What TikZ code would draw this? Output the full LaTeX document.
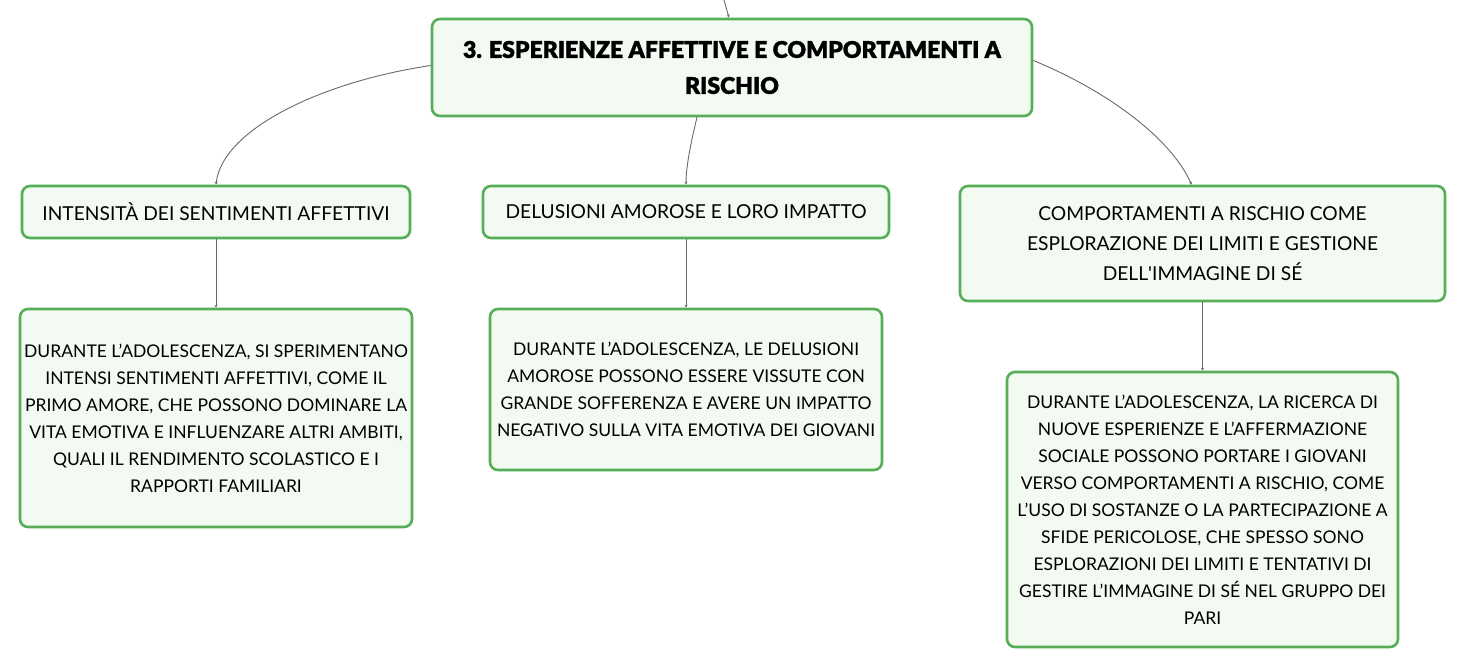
\documentclass[tikz,border=0pt]{standalone}
\usepackage{fontspec}
\setmainfont{Lato}
\newfontfamily\titlefont[FakeBold=1.3]{Lato Black}
\usetikzlibrary{arrows.meta}
\definecolor{bordergreen}{RGB}{86,174,86}
\definecolor{fillgreen}{RGB}{242,250,242}
\definecolor{linegray}{RGB}{105,105,105}
\tikzset{
  box/.style={draw=bordergreen, fill=fillgreen, line width=2.6pt, rounded corners=8pt, align=center, inner sep=0pt, text=black},
  bodytxt/.style={font=\fontsize{17.5}{27}\selectfont},
  headtxt/.style={font=\fontsize{19.2}{30}\selectfont},
  conn/.style={draw=linegray, line width=0.9pt, -{Stealth[length=3pt,width=3pt]}},
}
\begin{document}
\begin{tikzpicture}[x=1pt,y=-1pt]
\fill[white] (0,0) rectangle (1466,669);
\useasboundingbox (0,0) rectangle (1466,669);

\node[box, minimum width=600pt, minimum height=97pt, font=\titlefont\fontsize{23}{36}\selectfont] (title) at (732,67.5)
  {3. ESPERIENZE AFFETTIVE E COMPORTAMENTI A\\RISCHIO};

\node[box, headtxt, minimum width=388pt, minimum height=52pt] (a1) at (216,212)
  {INTENSITÀ DEI SENTIMENTI AFFETTIVI};
\node[box, headtxt, minimum width=406pt, minimum height=52pt] (a2) at (686,212)
  {DELUSIONI AMOROSE E LORO IMPATTO};
\node[box, headtxt, minimum width=485pt, minimum height=115pt] (a3) at (1202.5,243.5)
  {COMPORTAMENTI A RISCHIO COME\\ESPLORAZIONE DEI LIMITI E GESTIONE\\DELL\textquotesingle IMMAGINE DI SÉ};

\node[box, bodytxt, minimum width=392pt, minimum height=218pt] (b1) at (216,418)
  {DURANTE L’ADOLESCENZA, SI SPERIMENTANO\\INTENSI SENTIMENTI AFFETTIVI, COME IL\\PRIMO AMORE, CHE POSSONO DOMINARE LA\\VITA EMOTIVA E INFLUENZARE ALTRI AMBITI,\\QUALI IL RENDIMENTO SCOLASTICO E I\\RAPPORTI FAMILIARI};
\node[box, bodytxt, minimum width=392pt, minimum height=161pt] (b2) at (686,389.5)
  {DURANTE L’ADOLESCENZA, LE DELUSIONI\\AMOROSE POSSONO ESSERE VISSUTE CON\\GRANDE SOFFERENZA E AVERE UN IMPATTO\\NEGATIVO SULLA VITA EMOTIVA DEI GIOVANI};
\node[box, bodytxt, minimum width=391pt, minimum height=275pt] (b3) at (1202.5,509.5)
  {DURANTE L’ADOLESCENZA, LA RICERCA DI\\NUOVE ESPERIENZE E L’AFFERMAZIONE\\SOCIALE POSSONO PORTARE I GIOVANI\\VERSO COMPORTAMENTI A RISCHIO, COME\\L’USO DI SOSTANZE O LA PARTECIPAZIONE A\\SFIDE PERICOLOSE, CHE SPESSO SONO\\ESPLORAZIONI DEI LIMITI E TENTATIVI DI\\GESTIRE L’IMMAGINE DI SÉ NEL GRUPPO DEI\\PARI};

\coordinate (topin) at (724,0);
\draw[conn] (topin) -- ([xshift=-3pt]title.north);
\draw[conn] ([yshift=2pt]title.west) .. controls (320,82) and (222,130) .. (a1.north);
\draw[conn] ([xshift=-35pt]title.south) .. controls (689,150) and (686,170) .. (a2.north);
\draw[conn] ([yshift=7pt]title.east) .. controls (1110,92) and (1172,140) .. ([xshift=-11pt]a3.north);
\draw[conn] (a1.south) -- (b1.north);
\draw[conn] (a2.south) -- (b2.north);
\draw[conn] (a3.south) -- (b3.north);
\end{tikzpicture}
\end{document}
